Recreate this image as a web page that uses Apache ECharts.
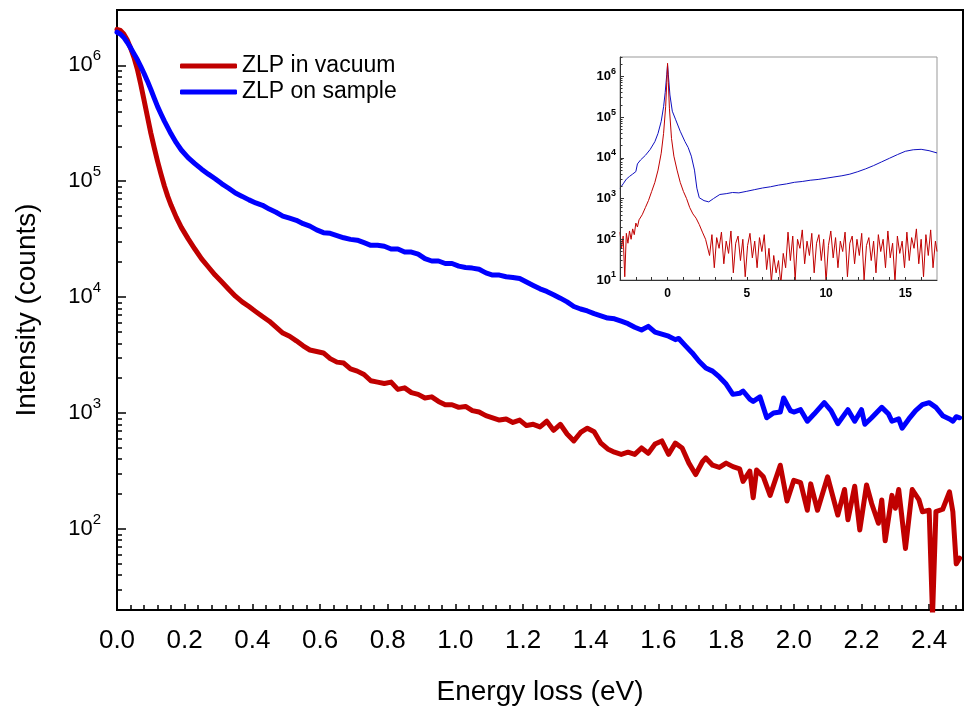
<!DOCTYPE html>
<html>
<head>
<meta charset="utf-8">
<script src="https://cdn.jsdelivr.net/npm/echarts@6/dist/echarts.min.js"></script>
<style>
html, body { margin: 0; padding: 0; background: #fff; }
#chart { width: 966px; height: 711px; }
</style>
</head>
<body>
<div id="chart"></div>
<script>
// main panel: [energy loss (eV), counts]
var vacuumMain = [
  [0.00, 2.04e6], [0.01, 2.0e6], [0.02, 1.86e6], [0.03, 1.66e6], [0.04, 1.41e6], [0.05, 1.17e6],
  [0.06, 9.3e5], [0.07, 6.9e5], [0.08, 5.0e5], [0.09, 3.6e5], [0.10, 2.6e5], [0.11, 1.95e5],
  [0.12, 1.48e5], [0.13, 1.15e5], [0.14, 9.1e4], [0.15, 7.4e4], [0.16, 6.2e4], [0.175, 4.9e4],
  [0.19, 4.0e4], [0.21, 3.2e4], [0.23, 2.6e4], [0.25, 2.14e4], [0.27, 1.82e4], [0.29, 1.55e4],
  [0.31, 1.35e4], [0.33, 1.17e4], [0.35, 1.02e4], [0.37, 9.1e3], [0.39, 8.3e3], [0.41, 7.5e3],
  [0.43, 6.8e3], [0.45, 6.2e3], [0.47, 5.5e3], [0.49, 4.9e3], [0.51, 4.6e3], [0.53, 4.2e3],
  [0.55, 3.8e3], [0.57, 3.5e3], [0.59, 3.4e3], [0.61, 3.3e3], [0.63, 2.95e3], [0.65, 2.75e3],
  [0.67, 2.7e3], [0.69, 2.4e3], [0.71, 2.3e3], [0.73, 2.15e3], [0.75, 1.9e3], [0.77, 1.85e3],
  [0.79, 1.8e3], [0.81, 1.85e3], [0.83, 1.6e3], [0.85, 1.65e3], [0.87, 1.5e3], [0.89, 1.45e3],
  [0.91, 1.35e3], [0.93, 1.38e3], [0.95, 1.26e3], [0.97, 1.18e3], [0.99, 1.18e3], [1.01, 1.12e3],
  [1.03, 1.14e3], [1.05, 1.05e3], [1.07, 1.02e3], [1.09, 950], [1.11, 910], [1.13, 870],
  [1.15, 890], [1.17, 830], [1.19, 870], [1.21, 780], [1.23, 800], [1.25, 760], [1.27, 850],
  [1.29, 710], [1.31, 800], [1.33, 660], [1.35, 575], [1.37, 680], [1.39, 740], [1.41, 690],
  [1.43, 550], [1.45, 490], [1.47, 460], [1.49, 440], [1.51, 460], [1.53, 440], [1.55, 500],
  [1.57, 450], [1.59, 540], [1.61, 575], [1.63, 440], [1.65, 550], [1.67, 500], [1.69, 370],
  [1.71, 295], [1.73, 380], [1.74, 410], [1.76, 355], [1.78, 340], [1.80, 370], [1.82, 345],
  [1.84, 330], [1.85, 257], [1.87, 316], [1.88, 186], [1.89, 323], [1.91, 282], [1.93, 195],
  [1.96, 355], [1.98, 174], [2.00, 263], [2.02, 251], [2.04, 145], [2.05, 245], [2.07, 145],
  [2.10, 282], [2.13, 132], [2.15, 219], [2.16, 120], [2.18, 234], [2.195, 98], [2.215, 240],
  [2.23, 166], [2.25, 112], [2.26, 178], [2.27, 79], [2.29, 195], [2.30, 151], [2.31, 219],
  [2.33, 68], [2.35, 219], [2.37, 178], [2.38, 141], [2.40, 145], [2.41, 18], [2.42, 141],
  [2.44, 148], [2.46, 209], [2.47, 141], [2.48, 50], [2.49, 56]
];
var sampleMain = [
  [0.00, 1.93e6], [0.01, 1.86e6], [0.02, 1.74e6], [0.03, 1.58e6], [0.04, 1.42e6], [0.05, 1.26e6],
  [0.06, 1.12e6], [0.07, 9.8e5], [0.08, 8.5e5], [0.09, 7.3e5], [0.10, 6.2e5], [0.11, 5.2e5],
  [0.12, 4.4e5], [0.13, 3.8e5], [0.14, 3.3e5], [0.15, 2.9e5], [0.16, 2.55e5], [0.175, 2.15e5],
  [0.19, 1.86e5], [0.21, 1.6e5], [0.23, 1.42e5], [0.25, 1.27e5], [0.27, 1.15e5], [0.29, 1.05e5],
  [0.31, 9.5e4], [0.33, 8.7e4], [0.35, 7.9e4], [0.37, 7.4e4], [0.39, 6.9e4], [0.41, 6.5e4],
  [0.43, 6.2e4], [0.45, 5.75e4], [0.47, 5.4e4], [0.49, 5.0e4], [0.51, 4.8e4], [0.53, 4.6e4],
  [0.55, 4.3e4], [0.57, 4.1e4], [0.59, 3.8e4], [0.61, 3.6e4], [0.63, 3.55e4], [0.65, 3.4e4],
  [0.67, 3.25e4], [0.69, 3.15e4], [0.71, 3.1e4], [0.73, 2.95e4], [0.75, 2.8e4], [0.77, 2.8e4],
  [0.79, 2.75e4], [0.81, 2.6e4], [0.83, 2.6e4], [0.85, 2.45e4], [0.87, 2.45e4], [0.89, 2.35e4],
  [0.91, 2.15e4], [0.93, 2.05e4], [0.95, 2.05e4], [0.97, 1.95e4], [0.99, 1.95e4], [1.01, 1.85e4],
  [1.03, 1.8e4], [1.05, 1.78e4], [1.07, 1.74e4], [1.09, 1.62e4], [1.11, 1.55e4], [1.13, 1.55e4],
  [1.15, 1.5e4], [1.17, 1.48e4], [1.19, 1.45e4], [1.21, 1.35e4], [1.23, 1.26e4], [1.25, 1.18e4],
  [1.27, 1.12e4], [1.29, 1.05e4], [1.31, 9.8e3], [1.33, 9.1e3], [1.35, 8.3e3], [1.37, 7.9e3],
  [1.39, 7.6e3], [1.41, 7.2e3], [1.43, 6.9e3], [1.45, 6.6e3], [1.47, 6.5e3], [1.49, 6.2e3],
  [1.51, 5.9e3], [1.53, 5.5e3], [1.55, 5.2e3], [1.57, 5.6e3], [1.59, 5.0e3], [1.61, 4.8e3],
  [1.63, 4.6e3], [1.65, 4.3e3], [1.66, 4.4e3], [1.68, 3.8e3], [1.70, 3.3e3], [1.72, 2.8e3],
  [1.74, 2.45e3], [1.76, 2.3e3], [1.78, 2.05e3], [1.80, 1.78e3], [1.82, 1.45e3], [1.84, 1.48e3],
  [1.85, 1.55e3], [1.87, 1.32e3], [1.88, 1.26e3], [1.90, 1.38e3], [1.92, 910], [1.94, 1000],
  [1.96, 1020], [1.97, 1350], [1.99, 1050], [2.00, 1020], [2.02, 1070], [2.04, 850], [2.06, 980],
  [2.09, 1230], [2.11, 1050], [2.13, 810], [2.16, 1070], [2.18, 850], [2.20, 1070], [2.21, 800],
  [2.23, 910], [2.26, 1120], [2.28, 980], [2.29, 850], [2.31, 890], [2.32, 740], [2.34, 890],
  [2.36, 1050], [2.38, 1180], [2.40, 1230], [2.42, 1120], [2.44, 950], [2.46, 890], [2.47, 850],
  [2.48, 930], [2.49, 910]
];

// inset: wide energy range
var vacuumInset = [
  [-3.0, 150], [-2.9, 60], [-2.8, 120], [-2.7, 12], [-2.6, 140], [-2.5, 80], [-2.4, 160],
  [-2.3, 100], [-2.2, 180], [-2.1, 130], [-2.0, 250], [-1.9, 200], [-1.8, 300], [-1.6, 400],
  [-1.4, 600], [-1.2, 900], [-1.0, 1500], [-0.8, 2500], [-0.6, 5000], [-0.4, 1.3e4],
  [-0.25, 4e4], [-0.12, 1.8e5], [-0.05, 7e5], [0, 2.1e6], [0.05, 7e5], [0.12, 1.6e5],
  [0.25, 3e4], [0.4, 1.1e4], [0.6, 5000], [0.8, 2500], [1.0, 1500], [1.2, 1000], [1.4, 600],
  [1.6, 420], [1.8, 330], [2.0, 230], [2.2, 150], [2.4, 100],
  [2.5, 90], [2.65, 40], [2.8, 130], [2.95, 20], [3.1, 110], [3.25, 60], [3.4, 150], [3.55, 25],
  [3.7, 90], [3.85, 45], [4.0, 160], [4.15, 15], [4.3, 80], [4.45, 120], [4.6, 30], [4.75, 100],
  [4.9, 12], [5.05, 70], [5.2, 140], [5.35, 35], [5.5, 90], [5.65, 20], [5.8, 110], [5.95, 50],
  [6.1, 130], [6.25, 18], [6.4, 60], [6.55, 9], [6.7, 40], [6.85, 15], [7.0, 30], [7.15, 8],
  [7.3, 45], [7.45, 20], [7.6, 150], [7.75, 30], [7.9, 120], [8.05, 10], [8.2, 100], [8.35, 60],
  [8.5, 170], [8.65, 25], [8.8, 90], [8.95, 40], [9.1, 140], [9.25, 15], [9.4, 80], [9.55, 130],
  [9.7, 30], [9.85, 100], [10.0, 9], [10.15, 70], [10.3, 160], [10.45, 35], [10.6, 110],
  [10.75, 20], [10.9, 90], [11.05, 50], [11.2, 150], [11.35, 12], [11.5, 80], [11.65, 120],
  [11.8, 25], [11.95, 100], [12.1, 40], [12.25, 140], [12.4, 10], [12.55, 70], [12.7, 110],
  [12.85, 30], [13.0, 90], [13.15, 15], [13.3, 130], [13.45, 50], [13.6, 100], [13.75, 20],
  [13.9, 160], [14.05, 35], [14.2, 80], [14.35, 9], [14.5, 120], [14.65, 45], [14.8, 90],
  [14.95, 20], [15.1, 150], [15.25, 30], [15.4, 110], [15.55, 60], [15.7, 180], [15.85, 25],
  [16.0, 100], [16.15, 12], [16.3, 130], [16.45, 40], [16.6, 170], [16.75, 20], [16.9, 90],
  [17.0, 50]
];
var sampleInset = [
  [-3.0, 1.8e3], [-2.8, 2.3e3], [-2.6, 3.0e3], [-2.4, 3.5e3], [-2.2, 4.0e3], [-2.0, 4.6e3],
  [-1.9, 7.1e3], [-1.7, 8.9e3], [-1.4, 1.15e4], [-1.1, 1.6e4], [-0.8, 2.5e4], [-0.6, 4.0e4],
  [-0.4, 7.9e4], [-0.25, 1.8e5], [-0.15, 4e5], [-0.05, 1.1e6], [0, 1.9e6], [0.05, 1.1e6],
  [0.15, 3.5e5], [0.3, 1.4e5], [0.5, 8.9e4], [0.8, 4.5e4], [1.1, 2.5e4], [1.3, 1.8e4],
  [1.5, 1.1e4], [1.7, 5e3], [1.85, 1.8e3], [2.0, 1050], [2.3, 890], [2.6, 830], [2.9, 1000],
  [3.3, 1260], [3.7, 1320], [4.1, 1410], [4.5, 1380], [5.0, 1510], [5.5, 1660], [6.0, 1820],
  [6.5, 1950], [7.0, 2140], [7.5, 2290], [8.0, 2510], [8.5, 2630], [9.0, 2820], [9.5, 2950],
  [10.0, 3160], [10.5, 3390], [11.0, 3630], [11.5, 3980], [12.0, 4570], [12.5, 5370],
  [13.0, 6460], [13.5, 7940], [14.0, 9770], [14.5, 1.2e4], [15.0, 1.45e4], [15.5, 1.58e4],
  [16.0, 1.62e4], [16.5, 1.5e4], [17.0, 1.32e4]
];

// tick positions
var mainMajorTicks = [100, 1000, 10000, 100000, 1000000];
var mainMinorTicks = [20, 30, 40, 50, 60, 70, 80, 90,
  200, 300, 400, 500, 600, 700, 800, 900,
  2000, 3000, 4000, 5000, 6000, 7000, 8000, 9000,
  20000, 30000, 40000, 50000, 60000, 70000, 80000, 90000,
  200000, 300000, 400000, 500000, 600000, 700000, 800000, 900000,
  2000000, 3000000];
var insetMajorTicks = [10, 100, 1000, 10000, 100000, 1000000];
var insetMinorTicks = [20, 30, 40, 50, 60, 70, 80, 90].concat(mainMinorTicks.slice(8));
var insetXTicks = [-2, -1, 0, 1, 2, 3, 4, 5, 6, 7, 8, 9, 10, 11, 12, 13, 14, 15, 16];
var insetXLabels = [0, 5, 10, 15];

var FONT = 'Liberation Sans, Arial, sans-serif';

function powLabel(v) {
  return '{b|10}{s|' + Math.round(Math.log10(v)) + '}';
}

var chart = echarts.init(document.getElementById('chart'));
chart.setOption({
  animation: false,
  backgroundColor: '#fff',
  textStyle: { fontFamily: FONT, color: '#000' },
  legend: {
    left: 175, top: 49, orient: 'vertical',
    icon: 'roundRect', itemWidth: 57, itemHeight: 5, itemGap: 2,
    textStyle: { fontSize: 23, lineHeight: 24, color: '#000', fontFamily: FONT },
    data: ['ZLP in vacuum', 'ZLP on sample']
  },
  grid: [
    { left: 117, top: 10, right: -2, bottom: 100, show: true, borderColor: '#000', borderWidth: 2 },
    { left: 620, top: 57, width: 317, height: 223, show: true, borderColor: '#999', borderWidth: 1,
      backgroundColor: '#fff', z: 10 }
  ],
  xAxis: [
    {
      gridIndex: 0, type: 'value', min: 0, max: 2.5, interval: 0.2,
      axisLine: { lineStyle: { color: '#000', width: 2 } },
      axisTick: { inside: true, length: 6, lineStyle: { color: '#000', width: 1.5 } },
      minorTick: { show: true, splitNumber: 5, length: 5, lineStyle: { color: '#000', width: 1.5 } },
      splitLine: { show: false },
      axisLabel: {
        fontSize: 26, margin: 18, color: '#000', fontFamily: FONT,
        formatter: function (v) { return v > 2.45 ? '' : v.toFixed(1); }
      },
      name: 'Energy loss (eV)', nameLocation: 'middle', nameGap: 68,
      nameTextStyle: { fontSize: 28, color: '#000', fontFamily: FONT }
    },
    {
      gridIndex: 1, type: 'value', min: -3, max: 17, z: 12,
      axisLine: { onZero: false, lineStyle: { color: '#333', width: 1 } },
      axisTick: { inside: true, length: 3, customValues: insetXTicks, lineStyle: { color: '#333' } },
      splitLine: { show: false },
      axisLabel: { customValues: insetXLabels, fontSize: 12, fontWeight: 'bold', margin: 8, color: '#000', fontFamily: FONT }
    }
  ],
  yAxis: [
    {
      gridIndex: 0, type: 'log', logBase: 10, min: 20, max: 3e6, position: 'left',
      axisLine: { show: true, onZero: false, lineStyle: { color: '#000', width: 2 } },
      axisTick: { inside: true, length: 9, customValues: mainMajorTicks, lineStyle: { color: '#000', width: 1.5 } },
      splitLine: { show: false },
      axisLabel: {
        customValues: mainMajorTicks, margin: 16, formatter: powLabel,
        rich: {
          b: { fontSize: 22, lineHeight: 34, color: '#000', fontFamily: FONT },
          s: { fontSize: 15, lineHeight: 15, verticalAlign: 'top', color: '#000', fontFamily: FONT }
        }
      },
      name: 'Intensity (counts)', nameLocation: 'middle', nameGap: 76,
      nameTextStyle: { fontSize: 28, color: '#000', fontFamily: FONT }
    },
    {
      gridIndex: 0, type: 'log', logBase: 10, min: 20, max: 3e6, position: 'left',
      axisLine: { show: false, onZero: false },
      axisTick: { inside: true, length: 5, customValues: mainMinorTicks, lineStyle: { color: '#000', width: 1.5 } },
      axisLabel: { show: false },
      splitLine: { show: false }
    },
    {
      gridIndex: 1, type: 'log', logBase: 10, min: 10, max: 3e6, position: 'left', z: 12,
      axisLine: { show: true, onZero: false, lineStyle: { color: '#333', width: 1 } },
      axisTick: { inside: true, length: 4, customValues: insetMajorTicks, lineStyle: { color: '#333' } },
      splitLine: { show: false },
      axisLabel: {
        customValues: insetMajorTicks, margin: 4, formatter: powLabel,
        rich: {
          b: { fontSize: 13, fontWeight: 'bold', lineHeight: 19, color: '#000', fontFamily: FONT },
          s: { fontSize: 9, fontWeight: 'bold', lineHeight: 9, verticalAlign: 'top', color: '#000', fontFamily: FONT }
        }
      }
    },
    {
      gridIndex: 1, type: 'log', logBase: 10, min: 10, max: 3e6, position: 'left', z: 12,
      axisLine: { show: false, onZero: false },
      axisTick: { inside: true, length: 2.5, customValues: insetMinorTicks, lineStyle: { color: '#333' } },
      axisLabel: { show: false },
      splitLine: { show: false }
    }
  ],
  series: [
    {
      name: 'ZLP in vacuum', type: 'line', xAxisIndex: 0, yAxisIndex: 0, data: vacuumMain,
      symbol: 'none', color: '#c00000',
      lineStyle: { width: 5, color: '#c00000', cap: 'round', join: 'round' }
    },
    {
      name: 'ZLP on sample', type: 'line', xAxisIndex: 0, yAxisIndex: 0, data: sampleMain,
      symbol: 'none', color: '#0000ff',
      lineStyle: { width: 5, color: '#0000ff', cap: 'round', join: 'round' }
    },
    {
      type: 'line', xAxisIndex: 1, yAxisIndex: 2, data: sampleInset, z: 11,
      symbol: 'none', lineStyle: { width: 1, color: '#1010c0' }
    },
    {
      type: 'line', xAxisIndex: 1, yAxisIndex: 2, data: vacuumInset, z: 11,
      symbol: 'none', lineStyle: { width: 1, color: '#c00000' }
    }
  ]
});
</script>
</body>
</html>
